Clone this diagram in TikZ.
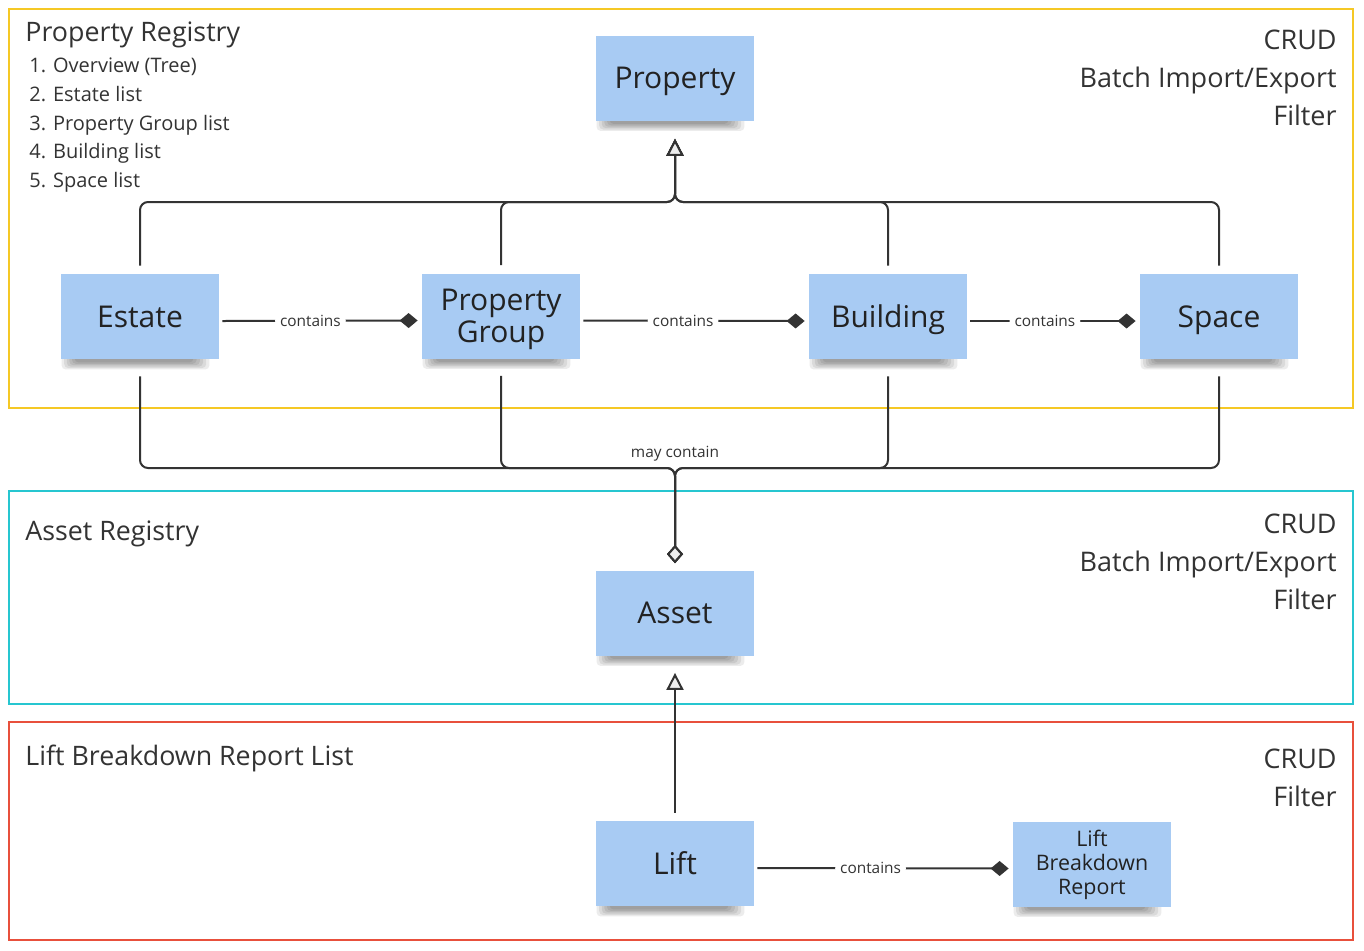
\documentclass[tikz,border=0pt]{standalone}
\usepackage{fontspec}
\setmainfont{Open Sans}
\usetikzlibrary{arrows.meta}
\definecolor{notefill}{HTML}{A8CBF3}
\definecolor{linecol}{HTML}{333333}
\definecolor{textdark}{HTML}{222222}
\definecolor{ycol}{HTML}{F5C825}
\definecolor{ccol}{HTML}{26C6D0}
\definecolor{rcol}{HTML}{E8503C}
\definecolor{arrowfill}{HTML}{EEEEEE}
\pgfdeclarelayer{bg}
\pgfsetlayers{bg,main}
\tikzset{
  notebox/.style={fill=notefill, minimum width=79pt, minimum height=42.5pt, inner sep=2pt,
    align=center, text=textdark, font=\fontsize{15}{16}\selectfont},
  oneline/.style={text height=10.7pt, text depth=0pt},
  smallnote/.style={notebox, font=\fontsize{10.7}{12}\selectfont},
  shadowlayer/.style={fill=black, opacity=0.075, rounded corners=2pt},
  frame/.style={line width=1pt},
  conn/.style={draw=linecol, line width=1pt, rounded corners=4pt},
  inh/.style={conn, -{Triangle[length=8.5pt, width=8.5pt, fill=arrowfill]}},
  compo/.style={conn, -{Diamond[length=9pt, width=7.5pt, fill=linecol]}},
  aggr/.style={conn, -{Diamond[length=9pt, width=8pt, fill=arrowfill]}},
  lbl/.style={font=\fontsize{7.7}{9}\selectfont, text=linecol, inner xsep=2.5pt, inner ysep=1pt},
  titletxt/.style={font=\fontsize{13.4}{15}\selectfont, text=linecol, inner sep=0pt},
  listtxt/.style={font=\fontsize{10}{12}\selectfont, text=linecol, inner sep=0pt},
  sidetxt/.style={font=\fontsize{13.5}{15}\selectfont, text=linecol, inner sep=0pt},
}
\begin{document}
\begin{tikzpicture}[x=0.5pt, y=-0.5pt]
\begin{pgfonlayer}{bg}
\fill[white] (0,0) rectangle (1364,950);
\end{pgfonlayer}
\useasboundingbox (0,0) rectangle (1364,950);
% frames
\draw[frame, draw=ycol] (9,9) rectangle (1353,408);
\draw[frame, draw=ccol] (9,491) rectangle (1353,704);
\draw[frame, draw=rcol] (9,722) rectangle (1353,940);

% texts
\node[titletxt, anchor=base west] (t1) at (25,41) {Property Registry};
\node[listtxt, anchor=base west] (l1) at (29,72) {1. Overview (Tree)};
\node[listtxt, anchor=base west] (l2) at (29,101) {2. Estate list};
\node[listtxt, anchor=base west] (l3) at (29,130) {3. Property Group list};
\node[listtxt, anchor=base west] (l4) at (29,158) {4. Building list};
\node[listtxt, anchor=base west] (l5) at (29,187) {5. Space list};
\node[sidetxt, anchor=base east] (c1) at (1337,49) {CRUD};
\node[sidetxt, anchor=base east] (c2) at (1337,87) {Batch Import/Export};
\node[sidetxt, anchor=base east] (c3) at (1337,125) {Filter};

\node[titletxt, anchor=base west] (t2) at (25,540) {Asset Registry};
\node[sidetxt, anchor=base east] (c4) at (1337,533) {CRUD};
\node[sidetxt, anchor=base east] (c5) at (1337,571) {Batch Import/Export};
\node[sidetxt, anchor=base east] (c6) at (1337,609) {Filter};

\node[titletxt, anchor=base west] (t3) at (25,765) {Lift Breakdown Report List};
\node[sidetxt, anchor=base east] (c7) at (1337,768) {CRUD};
\node[sidetxt, anchor=base east] (c8) at (1337,806) {Filter};

% notes
\node[notebox, oneline] (prop) at (675,78) {Property};
\node[notebox, oneline] (estate) at (140,316.5) {Estate};
\node[notebox] (pg) at (501,316) {\rule{0pt}{13.7pt}Property\\Group};
\node[notebox, oneline] (bldg) at (888,316.5) {Building};
\node[notebox, oneline] (space) at (1219,316.5) {Space};
\node[notebox, oneline] (asset) at (675,613) {Asset};
\node[notebox, oneline] (lift) at (675,863.5) {Lift};
\node[smallnote] (lbr) at (1092,864) {\rule{0pt}{9.1pt}Lift\\Breakdown\\Report};

% soft shadows under the notes
\begin{pgfonlayer}{bg}
\foreach \n in {prop,estate,pg,bldg,space,asset,lift,lbr}{
  \foreach \i in {0,...,5}{
    \fill[shadowlayer] ([xshift={0.5pt+1.3pt*\i}, yshift=2.5pt]\n.south west) rectangle ([xshift={-5pt-1.6pt*\i}, yshift={-5pt+0.7pt*\i}]\n.south east);
  }
}
\end{pgfonlayer}

% generalisation to Property
\coordinate (jtop) at (675,202);
\draw[inh, shorten <=4pt, shorten >=9pt] (estate.north) |- (jtop) -- (prop.south);
\draw[inh, shorten <=4pt, shorten >=9pt] (pg.north) |- (jtop) -- (prop.south);
\draw[inh, shorten <=4pt, shorten >=9pt] (bldg.north) |- (jtop) -- (prop.south);
\draw[inh, shorten <=4pt, shorten >=9pt] (space.north) |- (jtop) -- (prop.south);

% contains
\draw[compo, shorten <=1.5pt, shorten >=2pt] ([yshift=-2.25pt]estate.east) -- node[lbl, fill=white, pos=0.45] (lb1) {contains} ([yshift=-2.25pt]pg.west);
\draw[compo, shorten <=1.5pt, shorten >=2pt] ([yshift=-2.25pt]pg.east) -- node[lbl, fill=white, pos=0.45] (lb2) {contains} ([yshift=-2.25pt]bldg.west);
\draw[compo, shorten <=1.5pt, shorten >=2pt] ([yshift=-2.25pt]bldg.east) -- node[lbl, fill=white, pos=0.45] (lb3) {contains} ([yshift=-2.25pt]space.west);
\draw[compo, shorten <=1.5pt, shorten >=2pt] ([yshift=-2.25pt]lift.east) -- node[lbl, fill=white, pos=0.45] (lb4) {contains} ([yshift=-2.25pt]lbr.west);

% may contain
\coordinate (jbot) at (675,468);
\draw[aggr, shorten <=8.5pt, shorten >=3.5pt] (estate.south) |- (jbot) -- (asset.north);
\draw[aggr, shorten <=8.5pt, shorten >=3.5pt] (pg.south) |- (jbot) -- (asset.north);
\draw[aggr, shorten <=8.5pt, shorten >=3.5pt] (bldg.south) |- (jbot) -- (asset.north);
\draw[aggr, shorten <=8.5pt, shorten >=3.5pt] (space.south) |- (jbot) -- (asset.north);
\node[lbl] (mc) at (675,453.5) {may contain};

% Lift is an Asset
\draw[inh, shorten <=4pt, shorten >=8.5pt] (lift.north) -- (asset.south);
\end{tikzpicture}
\end{document}
